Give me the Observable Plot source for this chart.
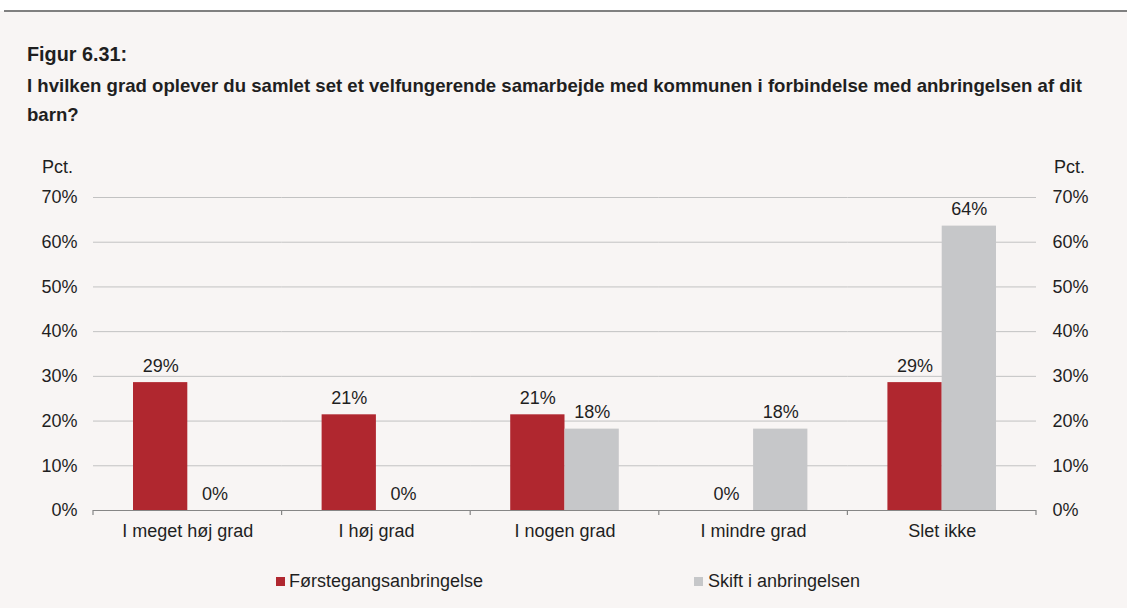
<!DOCTYPE html>
<html>
<head>
<meta charset="utf-8">
<script src="https://cdn.jsdelivr.net/npm/d3@7"></script>
<script src="https://cdn.jsdelivr.net/npm/@observablehq/plot@0.6"></script>
<style>
  html, body { margin: 0; padding: 0; }
  body { width: 1127px; height: 608px; background: #ffffff; position: relative; overflow: hidden;
         font-family: "Liberation Sans", Arial, sans-serif; color: #1f1f1f; }
  .abs { position: absolute; white-space: nowrap; }
  #panel { left: 0; top: 11px; width: 1127px; height: 597px; background: #f8f5f4; }
  #topline { left: 4px; top: 10px; width: 1123px; height: 2px; background: #808080; }
  #title { left: 27px; top: 44px; font-size: 19.8px; line-height: 20px; font-weight: bold; }
  #subtitle { left: 27px; top: 70.5px; font-size: 18.6px; line-height: 29px; font-weight: bold; }
  .pct { font-size: 18px; line-height: 18px; top: 158px; }
  #chart { left: 0; top: 150px; }
  .sw { width: 9px; height: 9px; top: 577px; }
  .lg { font-size: 18px; line-height: 18px; top: 572px; }
</style>
</head>
<body>
<div class="abs" id="panel"></div>
<div class="abs" id="topline"></div>
<div class="abs" id="title">Figur 6.31:</div>
<div class="abs" id="subtitle">I hvilken grad oplever du samlet set et velfungerende samarbejde med kommunen i forbindelse med anbringelsen af dit<br>barn?</div>
<div class="abs pct" style="left:42px">Pct.</div>
<div class="abs pct" style="left:1054px">Pct.</div>
<div class="abs" id="chart"></div>
<div class="abs sw" id="sw0" style="left:276px"></div>
<div class="abs lg" id="lg0" style="left:289px"></div>
<div class="abs sw" id="sw1" style="left:694px"></div>
<div class="abs lg" id="lg1" style="left:708px"></div>
<script>
// ---- data ----
const categories = ["I meget høj grad", "I høj grad", "I nogen grad", "I mindre grad", "Slet ikke"];
const seriesNames = ["Førstegangsanbringelse", "Skift i anbringelsen"];
const forstegang = [28.6, 21.4, 21.4, 0, 28.6];
const skift = [0, 0, 18.2, 18.2, 63.6];
const yTicks = [0, 10, 20, 30, 40, 50, 60, 70];
const colors = ["#b0272f", "#c6c7c9"];

const data = [];
categories.forEach((c, i) => {
  data.push({cat: c, series: seriesNames[0], value: forstegang[i]});
  data.push({cat: c, series: seriesNames[1], value: skift[i]});
});

const chart = Plot.plot({
  width: 1127,
  height: 410,
  marginTop: 47,
  marginBottom: 50,
  marginLeft: 93,
  marginRight: 91,
  style: {fontFamily: "'Liberation Sans', Arial, sans-serif", fontSize: "18px", background: "transparent", color: "#1f1f1f", overflow: "visible"},
  fx: {domain: categories, padding: 0, round: false, axis: "bottom", label: null, tickSize: 0, tickPadding: 14},
  x: {domain: seriesNames, paddingInner: 0, paddingOuter: 0.737, round: false, axis: null},
  y: {domain: [0, 70], ticks: yTicks, axis: "both", tickFormat: d => d + "%", tickSize: 0, tickPadding: 16, label: null},
  color: {domain: seriesNames, range: colors},
  marks: [
    Plot.gridY(yTicks.filter(d => d > 0), {stroke: "#c2c2c2", strokeOpacity: 1}),
    Plot.barY(data, {fx: "cat", x: "series", y: "value", fill: "series"}),
    Plot.ruleY([0], {stroke: "#868686", strokeWidth: 1.2}),
    Plot.text(data, {fx: "cat", x: "series", y: "value", text: d => Math.round(d.value) + "%", dy: -11, lineAnchor: "bottom", fill: "#1f1f1f"})
  ]
});

// boundary tick marks along the category axis, from the library's scales
const fxs = chart.scale("fx");
const ys = chart.scale("y");
const y0 = ys.apply(0);
const bounds = categories.map(c => fxs.apply(c));
bounds.push(fxs.apply(categories[categories.length - 1]) + fxs.bandwidth);
d3.select(chart).append("g").attr("stroke", "#868686").attr("stroke-width", 1.2)
  .selectAll("line").data(bounds).join("line")
  .attr("x1", d => d).attr("x2", d => d).attr("y1", y0).attr("y2", y0 + 5);

document.getElementById("chart").appendChild(chart);

// legend
seriesNames.forEach((s, i) => {
  document.getElementById("sw" + i).style.background = colors[i];
  document.getElementById("lg" + i).textContent = s;
});
</script>
</body>
</html>
